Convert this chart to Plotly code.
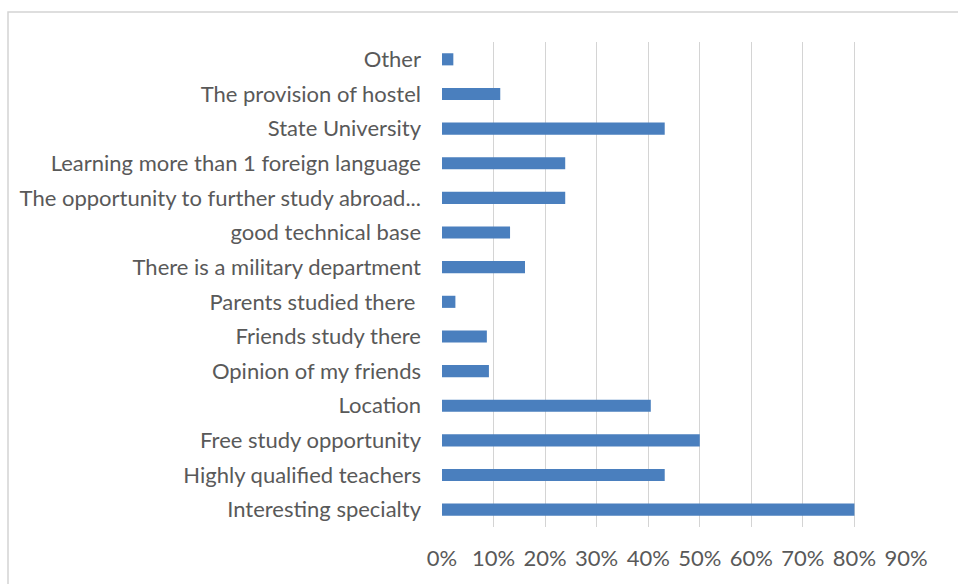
import plotly.graph_objects as go

categories = [
    "Interesting specialty",
    "Highly qualified teachers",
    "Free study opportunity",
    "Location",
    "Opinion of my friends",
    "Friends study there",
    "Parents studied there\u00a0",
    "There is a military department",
    "good technical base",
    "The opportunity to further study abroad...",
    "Learning more than 1 foreign language",
    "State University",
    "The provision of hostel",
    "Other",
]
values = [0.80, 0.432, 0.50, 0.405, 0.091, 0.087, 0.026, 0.161, 0.132, 0.239, 0.239, 0.432, 0.113, 0.022]
x_ticks = [0, 0.1, 0.2, 0.3, 0.4, 0.5, 0.6, 0.7, 0.8, 0.9]
x_tick_labels = ["0%", "10%", "20%", "30%", "40%", "50%", "60%", "70%", "80%", "90%"]

FONT = "Lato"
TXT = "#595959"
GRID = "#d4d4d4"

fig = go.Figure(
    go.Bar(
        x=values,
        y=categories,
        orientation="h",
        marker=dict(color="#4a7fbe", line=dict(width=0)),
        hoverinfo="x+y",
    )
)

L, R, T, B = 442, 52, 42, 57
W, H = 958, 584
pw, ph = W - L - R, H - T - B

fig.update_layout(
    width=W,
    height=H,
    margin=dict(l=L, r=R, t=T, b=B, pad=0),
    paper_bgcolor="white",
    plot_bgcolor="white",
    bargap=0.65,
    showlegend=False,
    font=dict(family=FONT, size=22, color=TXT),
    xaxis=dict(
        range=[0, 0.9],
        tickvals=x_ticks,
        ticktext=x_tick_labels,
        showgrid=True,
        gridcolor=GRID,
        gridwidth=1.2,
        zeroline=False,
        showline=False,
        ticks="",
        ticklabelstandoff=16,
        tickfont=dict(family=FONT, size=22, color=TXT),
        fixedrange=True,
    ),
    yaxis=dict(
        type="category",
        categoryorder="array",
        categoryarray=categories,
        range=[-0.5, len(categories) - 0.5],
        showgrid=False,
        zeroline=False,
        showline=False,
        ticks="",
        ticklabelstandoff=20,
        tickfont=dict(family=FONT, size=22, color=TXT),
        fixedrange=True,
    ),
    shapes=[
        dict(
            type="rect",
            xref="paper",
            yref="paper",
            x0=(8 - L) / pw,
            x1=(W + 10 - L) / pw,
            y0=-(B + 10) / ph,
            y1=(H - B - 12) / ph,
            line=dict(color=GRID, width=1.5),
            fillcolor="rgba(0,0,0,0)",
            layer="below",
        )
    ],
)

fig.write_html("out.html")
